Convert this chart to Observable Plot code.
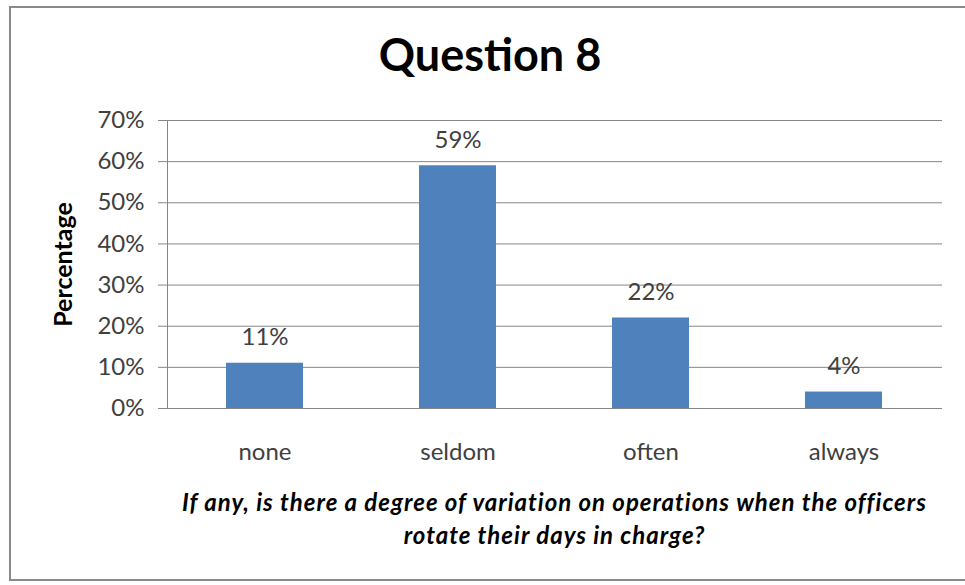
<!DOCTYPE html>
<html>
<head>
<meta charset="utf-8">
<script src="https://cdn.jsdelivr.net/npm/d3@7"></script>
<script src="https://cdn.jsdelivr.net/npm/@observablehq/plot@0.6"></script>
<style>
  html, body { margin: 0; padding: 0; background: #fff; }
  body { width: 965px; height: 585px; position: relative; overflow: hidden; font-family: Lato, "Open Sans", sans-serif; }
  #frame { position: absolute; left: 9px; top: 6px; width: 980px; height: 575px; border: 2px solid #8a8a8a; box-sizing: border-box; }
  #chart { position: absolute; left: 0; top: 0; }
  #title { position: absolute; left: 10px; width: 960px; top: 32px; text-align: center; font-size: 45px; font-weight: 700; color: #000; line-height: 1; }
  #xtitle { position: absolute; left: 167px; width: 775px; top: 485px; text-align: center; font-size: 24px; letter-spacing: 1px; font-weight: 700; font-style: italic; color: #000; line-height: 33px; white-space: nowrap; }
</style>
</head>
<body>
<div id="frame"></div>
<div id="chart"></div>
<div id="title">Question 8</div>
<div id="xtitle">If any, is there a degree of variation on operations when the officers<br>rotate their days in charge?</div>
<script>
// Survey responses to question 8, in percent
const categories = ["none", "seldom", "often", "always"];
const percentages = [11, 59, 22, 4];
const yTicks = [0, 10, 20, 30, 40, 50, 60, 70];

const rows = categories.map((answer, i) => ({answer, pct: percentages[i]}));

const grid = "#868686";
const ink = "#404040";

const chart = Plot.plot({
  width: 965,
  height: 585,
  marginLeft: 167,
  marginRight: 23,
  marginTop: 120,
  marginBottom: 177,
  style: {fontFamily: "Lato, 'Open Sans', sans-serif", fontSize: "24px", color: ink, background: "transparent"},
  x: {domain: categories, paddingInner: 0.6, paddingOuter: 0.3},
  y: {domain: [0, 70]},
  marks: [
    Plot.ruleY(yTicks, {stroke: grid, strokeWidth: 1, strokeOpacity: 1}),
    Plot.frame({anchor: "left", stroke: grid, strokeOpacity: 1}),
    Plot.axisY({
      ticks: yTicks, tickFormat: d => d + "%", tickSize: 9, tickPadding: 14,
      stroke: grid, strokeOpacity: 1, fill: ink, label: null, fontSize: 24
    }),
    Plot.axisX({tickSize: 0, tickPadding: 34, label: null, fill: ink, fontSize: 24}),
    Plot.barY(rows, {x: "answer", y: "pct", fill: "#4F81BD"}),
    Plot.text(rows, {
      x: "answer", y: "pct", text: d => d.pct + "%",
      dy: -18, lineAnchor: "bottom", fill: ink, fontSize: 24
    }),
    Plot.text(["Percentage"], {
      frameAnchor: "left", dx: -104, rotate: -90, text: d => d,
      textAnchor: "middle", fontWeight: "bold", fontSize: 25, fill: "#000"
    })
  ]
});

document.getElementById("chart").appendChild(chart);
</script>
</body>
</html>
